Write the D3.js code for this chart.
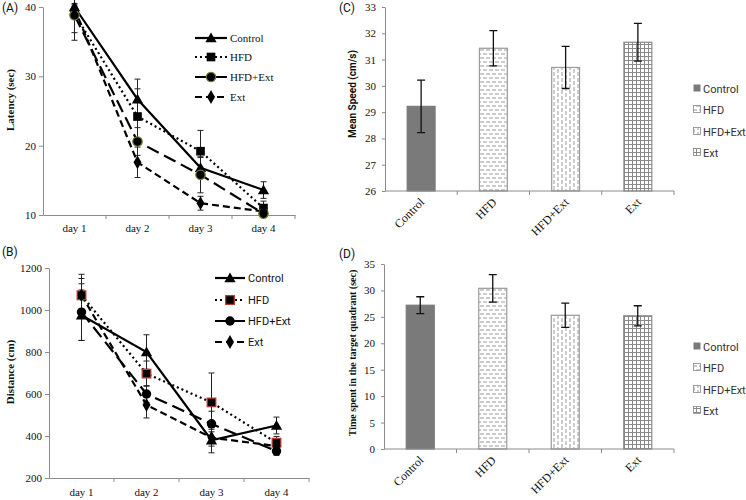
<!DOCTYPE html>
<html><head><meta charset="utf-8">
<script src="https://cdn.jsdelivr.net/npm/d3@7"></script>
<style>body{margin:0;background:#fff}svg{display:block}</style>
</head><body>
<svg id="c" width="746" height="500"></svg>
<script>
// ---------- DATA ----------
const days = ["day 1", "day 2", "day 3", "day 4"];
const groups = ["Control", "HFD", "HFD+Ext", "Ext"];

const latencyTicks = [10, 20, 30, 40];
const latencyControl = [40, 26.7, 16.8, 13.6];
const latencyHFD = [39.0, 24.2, 19.2, 11.0];
const latencyHFDExt = [38.8, 20.6, 15.8, 10.2];
const latencyExt = [39.8, 17.6, 11.7, 10.5];
const latencyErrControl = [0.5, 2.9, 1.5, 1.2];
const latencyErrHFD = [3.8, 4.0, 3.0, 1.0];
const latencyErrHFDExt = [2.5, 2.0, 2.6, 0.5];
const latencyErrExt = [0.5, 2.2, 1.0, 0.5];

const distanceTicks = [200, 400, 600, 800, 1000, 1200];
const distanceControl = [975, 800, 380, 450];
const distanceHFD = [1070, 697, 560, 368];
const distanceHFDExt = [990, 600, 458, 328];
const distanceExt = [1070, 548, 392, 352];
const distanceErrControl = [120, 82, 60, 40];
const distanceErrHFD = [100, 60, 140, 30];
const distanceErrHFDExt = [135, 40, 60, 20];
const distanceErrExt = [80, 62, 40, 20];

const speedTicks = [26, 27, 28, 29, 30, 31, 32, 33];
const speedMean = [29.22, 31.43, 30.70, 31.66];
const speedErr = [1.0, 0.67, 0.8, 0.72];

const timeTicks = [0, 5, 10, 15, 20, 25, 30, 35];
const timeMean = [27.2, 30.4, 25.3, 25.2];
const timeErr = [1.6, 2.6, 2.3, 1.9];

// ---------- DRAW ----------
const svg = d3.select("#c");
const serif = "'Liberation Serif', 'Times New Roman', serif";
const sans = "Roboto, 'Liberation Sans', Arial, sans-serif";
const axisGray = "#8c8c8c";

// patterns
const defs = svg.append("defs");
const pH = defs.append("pattern").attr("id", "pHFD").attr("patternUnits", "userSpaceOnUse")
  .attr("width", 6).attr("height", 8);
pH.append("rect").attr("width", 6).attr("height", 8).attr("fill", "#fff");
pH.append("line").attr("x1", 0).attr("x2", 4).attr("y1", 2).attr("y2", 2).attr("stroke", "#9a9a9a").attr("stroke-width", 1);
pH.append("line").attr("x1", 3).attr("x2", 7).attr("y1", 6).attr("y2", 6).attr("stroke", "#9a9a9a").attr("stroke-width", 1);
pH.append("line").attr("x1", -3).attr("x2", 1).attr("y1", 6).attr("y2", 6).attr("stroke", "#9a9a9a").attr("stroke-width", 1);
const pV = defs.append("pattern").attr("id", "pHFDExt").attr("patternUnits", "userSpaceOnUse")
  .attr("width", 8).attr("height", 6);
pV.append("rect").attr("width", 8).attr("height", 6).attr("fill", "#fff");
pV.append("line").attr("y1", 0).attr("y2", 4).attr("x1", 2).attr("x2", 2).attr("stroke", "#9a9a9a").attr("stroke-width", 1);
pV.append("line").attr("y1", 3).attr("y2", 7).attr("x1", 6).attr("x2", 6).attr("stroke", "#9a9a9a").attr("stroke-width", 1);
pV.append("line").attr("y1", -3).attr("y2", 1).attr("x1", 6).attr("x2", 6).attr("stroke", "#9a9a9a").attr("stroke-width", 1);
const pG = defs.append("pattern").attr("id", "pExt").attr("patternUnits", "userSpaceOnUse")
  .attr("width", 4).attr("height", 4);
pG.append("rect").attr("width", 4).attr("height", 4).attr("fill", "#fff");
pG.append("path").attr("d", "M0,0.5H4M0.5,0V4").attr("stroke", "#8a8a8a").attr("stroke-width", 1);

const barFills = ["#7a7a7a", "url(#pHFD)", "url(#pHFDExt)", "url(#pExt)"];
const barStrokes = ["#7a7a7a", "#9a9a9a", "#9a9a9a", "#8a8a8a"];

function label(txt, x, y) {
  svg.append("text").attr("x", x).attr("y", y).attr("font-family", sans).attr("font-size", 12)
    .attr("fill", "#111").text(txt);
}

function yLabel(txt, x, y, family, size) {
  svg.append("text").attr("transform", `translate(${x},${y}) rotate(-90)`)
    .attr("text-anchor", "middle").attr("font-family", family).attr("font-weight", "bold")
    .attr("font-size", size).attr("fill", "#111").text(txt);
}

const lineStyles = [
  { dash: null, marker: "triangle" },
  { dash: "2,3", marker: "square" },
  { dash: "13,6", marker: "circle" },
  { dash: "7,4", marker: "diamond" }
];

function marker(g, type, x, y, stroke) {
  const sym = { triangle: d3.symbolTriangle, square: d3.symbolSquare, circle: d3.symbolCircle, diamond: d3.symbolDiamond }[type];
  const size = { triangle: 55, square: 75, circle: 70, diamond: 55 }[type];
  g.append("path").attr("d", d3.symbol(sym, size)()).attr("transform", `translate(${x},${type === "triangle" ? y + 1 : y})`)
    .attr("fill", "#000").attr("stroke", stroke || "none").attr("stroke-width", 1.2);
}

function linePanel(o) {
  const x = d3.scaleBand().domain(days).range([o.x0, o.x1]);
  const cx = d => x(d) + x.bandwidth() / 2;
  const y = d3.scaleLinear().domain(o.yDomain).range([o.y1, o.y0]);
  const g = svg.append("g");
  const ya = g.append("g").attr("transform", `translate(${o.x0},0)`)
    .call(d3.axisLeft(y).tickValues(o.ticks).tickFormat(d3.format("d")).tickSize(4).tickPadding(3).tickSizeOuter(0));
  ya.select(".domain").attr("stroke", axisGray);
  ya.selectAll(".tick line").attr("stroke", axisGray);
  ya.selectAll("text").attr("font-family", serif).attr("font-size", 11).attr("fill", "#111");
  const xa = g.append("g").attr("transform", `translate(0,${o.y1})`)
    .call(d3.axisBottom(x).tickSize(0).tickPadding(o.xPad).tickSizeOuter(0));
  xa.select(".domain").attr("stroke", axisGray);
  xa.selectAll("text").attr("font-family", serif).attr("font-size", 11).attr("fill", "#111");
  days.forEach((d, i) => {
    const xx = i < days.length - 1 ? x(days[i + 1]) : o.x1;
    g.append("line").attr("x1", xx).attr("x2", xx).attr("y1", o.y1).attr("y2", o.y1 + 4).attr("stroke", axisGray);
  });
  o.series.forEach((vals, si) => {
    const errs = o.errs[si];
    const st = lineStyles[si];
    const gl = g.append("g");
    gl.append("path").datum(vals)
      .attr("d", d3.line().x((v, i) => cx(days[i])).y(v => y(v)))
      .attr("fill", "none").attr("stroke", "#000").attr("stroke-width", 2.2)
      .attr("stroke-dasharray", st.dash);
    vals.forEach((v, i) => {
      const xx = cx(days[i]);
      gl.append("path").attr("d", `M${xx},${y(v - errs[i])}V${y(v + errs[i])}M${xx - 3},${y(v - errs[i])}H${xx + 3}M${xx - 3},${y(v + errs[i])}H${xx + 3}`)
        .attr("stroke", "#222").attr("stroke-width", 1).attr("fill", "none");
    });
  });
  o.series.forEach((vals, si) => {
    vals.forEach((v, i) => marker(g, lineStyles[si].marker, cx(days[i]), y(v), o.markerStroke[si]));
  });
  groups.forEach((name, i) => {
    const ly = o.legY[i];
    const st = lineStyles[i];
    g.append("line").attr("x1", o.legX).attr("x2", o.legX + o.legW).attr("y1", ly).attr("y2", ly)
      .attr("stroke", "#000").attr("stroke-width", 2.2).attr("stroke-dasharray", st.dash);
    marker(g, st.marker, o.legX + o.legW / 2, ly, o.markerStroke[i]);
    g.append("text").attr("x", o.legX + o.legW + 3).attr("y", ly + 4)
      .attr("font-family", o.legFont).attr("font-size", 11).attr("fill", "#111").text(name);
  });
}

linePanel({
  x0: 43, x1: 295, y0: 7, y1: 215, yDomain: [10, 40], ticks: latencyTicks, xPad: 9,
  series: [latencyControl, latencyHFD, latencyHFDExt, latencyExt],
  errs: [latencyErrControl, latencyErrHFD, latencyErrHFDExt, latencyErrExt],
  markerStroke: [null, null, "#6f7a2a", null],
  legX: 195, legW: 32, legY: [38, 57, 77, 97], legFont: serif
});
linePanel({
  x0: 49, x1: 309, y0: 268, y1: 478, yDomain: [200, 1200], ticks: distanceTicks, xPad: 10,
  series: [distanceControl, distanceHFD, distanceHFDExt, distanceExt],
  errs: [distanceErrControl, distanceErrHFD, distanceErrHFDExt, distanceErrExt],
  markerStroke: [null, "#c0392b", null, null],
  legX: 215, legW: 30, legY: [278, 300, 321, 342], legFont: sans
});

function barPanel(o) {
  const x = d3.scaleBand().domain(groups).range([o.x0, o.x1]).paddingInner(0.6).paddingOuter(0.3);
  const xb = d3.scaleBand().domain(groups).range([o.x0, o.x1]);
  const y = d3.scaleLinear().domain(o.yDomain).range([o.y1, o.y0]);
  const g = svg.append("g");
  const ya = g.append("g").attr("transform", `translate(${o.x0},0)`)
    .call(d3.axisLeft(y).tickValues(o.ticks).tickFormat(d3.format("d")).tickSize(3).tickPadding(6).tickSizeOuter(0));
  ya.select(".domain").attr("stroke", axisGray);
  ya.selectAll(".tick line").attr("stroke", axisGray);
  ya.selectAll("text").attr("font-family", serif).attr("font-size", 11).attr("fill", "#111");
  groups.forEach((gname, i) => {
    const v = o.values[i];
    g.append("rect").attr("x", x(gname) + 0.5).attr("y", y(v)).attr("width", x.bandwidth() - 1)
      .attr("height", o.y1 - y(v)).attr("fill", barFills[i]).attr("stroke", barStrokes[i]).attr("stroke-width", 1.2);
  });
  g.append("line").attr("x1", o.x0).attr("x2", o.x1).attr("y1", o.y1).attr("y2", o.y1).attr("stroke", axisGray);
  groups.forEach((gname, i) => {
    const xx = xb(gname) + xb.bandwidth();
    g.append("line").attr("x1", xx).attr("x2", xx).attr("y1", o.y1).attr("y2", o.y1 + 4).attr("stroke", axisGray);
    const c = x(gname) + x.bandwidth() / 2;
    g.append("text").attr("transform", `translate(${c + 4},${o.y1 + 12}) rotate(-45)`)
      .attr("text-anchor", "end").attr("font-family", serif).attr("font-size", 12).attr("fill", "#111").text(gname);
  });
  groups.forEach((gname, i) => {
    const c = x(gname) + x.bandwidth() / 2;
    const v = o.values[i], e = o.errs[i];
    g.append("path").attr("d", `M${c},${y(v - e)}V${y(v + e)}M${c - 4},${y(v - e)}H${c + 4}M${c - 4},${y(v + e)}H${c + 4}`)
      .attr("stroke", "#111").attr("stroke-width", 1.3).attr("fill", "none");
  });
  groups.forEach((gname, i) => {
    const ly = o.legY[i];
    g.append("rect").attr("x", 693.5).attr("y", ly - 4.5).attr("width", 7).attr("height", 7)
      .attr("fill", barFills[i]).attr("stroke", i === 0 ? "none" : "#888").attr("stroke-width", 0.8);
    g.append("text").attr("x", 703).attr("y", ly + 4).attr("font-family", sans).attr("font-size", 11)
      .attr("fill", "#333").text(gname);
  });
}

barPanel({
  x0: 385, x1: 674, y0: 7, y1: 191, yDomain: [26, 33], ticks: speedTicks,
  values: speedMean, errs: speedErr, legY: [89, 110, 132, 153]
});
barPanel({
  x0: 384, x1: 674, y0: 264, y1: 449, yDomain: [0, 35], ticks: timeTicks,
  values: timeMean, errs: timeErr, legY: [347, 368, 390, 411]
});

label("(A)", 2, 12);
label("(B)", 2, 256);
label("(C)", 339, 12);
label("(D)", 339, 258);
yLabel("Latency (sec)", 14, 100, serif, 11);
yLabel("Distance (cm)", 14, 372, serif, 11);
yLabel("Mean Speed (cm/s)", 356, 94, sans, 10);
yLabel("Time spent in the target quadrant (sec)", 356, 353, serif, 10);
</script>
</body></html>
